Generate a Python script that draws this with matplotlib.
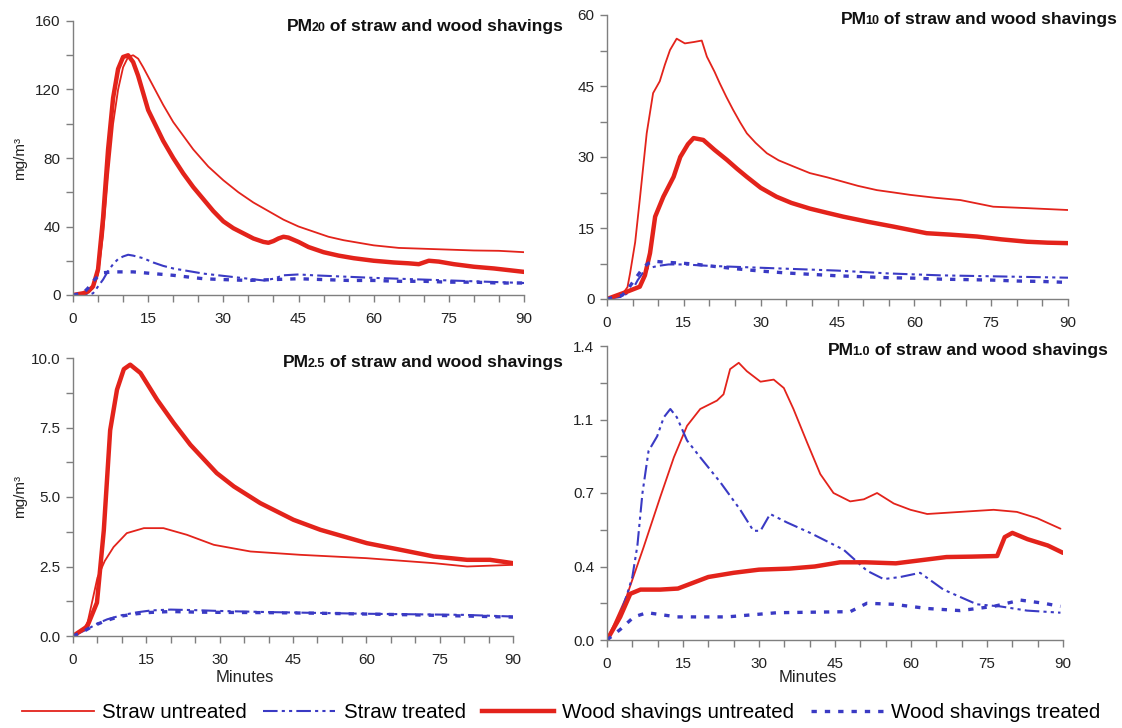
import matplotlib
matplotlib.use("Agg")
import matplotlib.pyplot as plt
from matplotlib.lines import Line2D

plt.rcParams['font.family'] = ['Liberation Sans', 'DejaVu Sans']

# ---------------- data (minutes, mg/m3) ----------------
# PM20
pm20_su_t = [0, 2, 3, 4, 5, 6, 7, 8, 9, 10, 11, 12, 13, 14, 16, 18, 20, 22, 24, 27, 30, 33, 36, 39, 42, 45, 48, 51, 54, 57, 60, 65, 70, 75, 80, 85, 90]
pm20_su_v = [0, 0.5, 1.5, 4, 12, 35, 70, 100, 120, 133, 139, 140, 138, 133, 122, 111, 101, 93, 85, 75, 67, 60, 54, 49, 44, 40, 37, 34, 32, 30.5, 29, 27.5, 27, 26.5, 26, 25.8, 25]
pm20_st_t = [0, 3, 4, 5, 6, 7, 8, 9, 10, 11, 12, 14, 16, 18, 20, 23, 26, 29, 32, 35, 38, 40, 42, 45, 48, 52, 56, 60, 65, 70, 75, 80, 85, 90]
pm20_st_v = [0, 0, 1, 5, 9, 14, 18, 21, 22.5, 23.5, 23, 21.5, 19, 17, 15.5, 14, 12.5, 11.5, 10.5, 9.5, 8.5, 9.5, 11.5, 12, 11.5, 11, 10.5, 10, 9.5, 9, 8.5, 8, 7.5, 7]
pm20_wu_t = [0, 2, 3, 4, 5, 6, 7, 8, 9, 10, 11, 12, 13, 14, 15, 18, 20, 22, 24, 26, 28, 30, 32, 34, 36, 38, 39, 40, 41, 42, 43, 45, 47, 50, 53, 56, 60, 64, 67, 69, 71, 73, 76, 80, 84, 87, 90]
pm20_wu_v = [0, 1, 2, 5, 15, 45, 85, 115, 132, 139, 140, 136, 128, 118, 108, 90, 80, 71, 63, 56, 49, 43, 39, 36, 33, 31, 30.5, 31.5, 33, 34, 33.5, 31, 28, 25, 23, 21.5, 20, 19, 18.5, 18, 20, 19.5, 18, 16.5, 15.5, 14.5, 13.5]
pm20_wt_t = [0, 2, 3, 4, 5, 6, 8, 10, 12, 14, 16, 18, 20, 23, 26, 30, 35, 40, 45, 50, 55, 60, 65, 70, 75, 80, 85, 90]
pm20_wt_v = [0, 1, 4, 8, 11, 13, 13.5, 13.5, 13.5, 13, 12.5, 12, 11.5, 10.5, 9.5, 9, 8.5, 9, 9.5, 9, 8.5, 8.5, 8, 8, 7.5, 7.5, 7, 7]

# PM10
pm10_su_t = [0, 3, 4, 4.5, 5.5, 6.4, 7.75, 9, 10.3, 11.3, 12.3, 13.6, 15.2, 17, 18.5, 19.5, 21, 22, 23.3, 24.6, 26, 27.3, 29, 31.2, 33.5, 36.4, 39.6, 43, 46, 49, 52.7, 56, 59.2, 64, 69, 75.4, 82, 90]
pm10_su_v = [0, 1, 2.5, 5.4, 12, 21, 35, 43.5, 46, 49.5, 52.6, 55, 54, 54.3, 54.6, 51.2, 48, 45.6, 42.7, 40, 37.3, 35, 33, 30.8, 29.3, 28, 26.6, 25.7, 24.8, 23.9, 23, 22.5, 22, 21.4, 20.9, 19.5, 19.2, 18.8]
pm10_st_t = [0, 3, 5, 6, 7, 8, 10, 12, 15, 20, 25, 30, 35, 40, 45, 50, 55, 60, 65, 70, 75, 80, 85, 90]
pm10_st_v = [0, 0.5, 2, 4, 5.5, 6.5, 7, 7.3, 7.3, 7, 6.8, 6.6, 6.4, 6.2, 6, 5.7, 5.4, 5.2, 5, 4.9, 4.8, 4.7, 4.6, 4.5]
pm10_wu_t = [0, 3.8, 6.4, 7.4, 8.4, 9.4, 11, 13, 14.3, 15.8, 16.9, 18.8, 21, 23.4, 25.4, 27.3, 30, 33.1, 36, 39.6, 43, 46.1, 51, 55.9, 62.4, 67, 72.2, 77, 82, 86, 90]
pm10_wu_v = [0, 1.5, 2.6, 5, 9.7, 17.4, 21.6, 25.8, 30, 32.7, 34, 33.6, 31.5, 29.4, 27.5, 25.8, 23.5, 21.6, 20.3, 19.1, 18.2, 17.4, 16.3, 15.3, 13.9, 13.6, 13.2, 12.6, 12.1, 11.9, 11.8]
pm10_wt_t = [0, 3, 4, 5, 6, 7, 8, 9, 11, 14, 17, 20, 25, 30, 35, 40, 45, 50, 55, 60, 65, 70, 75, 80, 85, 90]
pm10_wt_v = [0, 0.8, 2, 3.5, 5, 6.5, 7.5, 8, 7.8, 7.6, 7.4, 7.0, 6.4, 5.9, 5.5, 5.2, 4.9, 4.7, 4.5, 4.4, 4.2, 4.1, 4.0, 3.8, 3.7, 3.5]

# PM2.5
pm25_su_t = [0, 2, 3, 4, 5, 6.5, 8.3, 11, 14.5, 18.5, 23.3, 28.8, 36.3, 46.5, 60, 73.8, 80.6, 90]
pm25_su_v = [0, 0.2, 0.5, 1.3, 2.1, 2.7, 3.2, 3.7, 3.88, 3.88, 3.64, 3.28, 3.04, 2.92, 2.8, 2.62, 2.5, 2.56]
pm25_st_t = [0, 3, 5, 7, 10, 13, 16, 20, 25, 30, 40, 50, 60, 70, 80, 90]
pm25_st_v = [0, 0.25, 0.45, 0.6, 0.75, 0.85, 0.92, 0.95, 0.93, 0.9, 0.86, 0.83, 0.8, 0.78, 0.76, 0.7]
pm25_wu_t = [0, 2.9, 4.9, 6.3, 7.6, 9, 10.4, 11.7, 13.8, 17.2, 20.6, 24, 29.4, 32.9, 38.3, 45.1, 50.6, 60.1, 67, 73.8, 80.6, 85.3, 90]
pm25_wu_v = [0, 0.34, 1.2, 3.8, 7.4, 8.86, 9.6, 9.76, 9.46, 8.5, 7.66, 6.88, 5.86, 5.38, 4.78, 4.18, 3.82, 3.34, 3.1, 2.86, 2.74, 2.74, 2.62]
pm25_wt_t = [0, 2, 4, 6, 8, 10, 13, 16, 20, 25, 30, 40, 50, 60, 70, 80, 90]
pm25_wt_v = [0, 0.15, 0.35, 0.5, 0.62, 0.72, 0.8, 0.85, 0.88, 0.86, 0.85, 0.84, 0.82, 0.79, 0.76, 0.72, 0.68]

# PM1.0
pm1_su_t = [0, 3.9, 7.2, 10.5, 13.2, 15.8, 18.4, 21.7, 23, 24.3, 26, 27.6, 30.3, 32.9, 34.9, 36.8, 39.5, 42.1, 44.7, 48, 50.7, 53.3, 56.6, 59.9, 63.2, 69.7, 76.3, 80.9, 84.9, 89.5]
pm1_su_v = [0, 0.21, 0.44, 0.68, 0.87, 1.02, 1.10, 1.14, 1.17, 1.29, 1.32, 1.28, 1.23, 1.24, 1.2, 1.10, 0.94, 0.79, 0.70, 0.66, 0.67, 0.70, 0.65, 0.62, 0.60, 0.61, 0.62, 0.61, 0.58, 0.53]
pm1_st_t = [0, 2, 4, 5, 6, 7, 8.2, 9.9, 11.2, 12.5, 13.8, 15.8, 18.4, 22.4, 26.3, 28.9, 30.3, 32.2, 35.5, 40.1, 46.7, 51.3, 54.6, 57.9, 61.8, 66.4, 73, 77.6, 82.9, 89.5]
pm1_st_v = [0, 0.08, 0.22, 0.3, 0.45, 0.7, 0.9, 0.97, 1.06, 1.10, 1.06, 0.95, 0.87, 0.75, 0.62, 0.52, 0.52, 0.60, 0.56, 0.51, 0.43, 0.33, 0.29, 0.30, 0.32, 0.24, 0.17, 0.16, 0.14, 0.13]
pm1_wu_t = [0, 2.6, 4.6, 6.6, 10.5, 14, 20, 25, 30, 36, 41, 46, 51, 57, 62, 67, 72, 77, 78.5, 80, 83, 87, 90]
pm1_wu_v = [0, 0.11, 0.22, 0.24, 0.24, 0.245, 0.30, 0.32, 0.335, 0.34, 0.35, 0.37, 0.37, 0.365, 0.38, 0.395, 0.397, 0.40, 0.49, 0.51, 0.48, 0.45, 0.415]
pm1_wt_t = [0, 2.6, 5.3, 7.9, 13.8, 23.7, 33.6, 48, 51.3, 56.6, 63.2, 69.7, 76.3, 81.6, 86.2, 89.5]
pm1_wt_v = [0, 0.05, 0.11, 0.13, 0.11, 0.11, 0.13, 0.135, 0.175, 0.17, 0.15, 0.14, 0.16, 0.19, 0.175, 0.16]

x_ticks = [0, 15, 30, 45, 60, 75, 90]
series_labels = ["Straw untreated", "Straw treated", "Wood shavings untreated", "Wood shavings treated"]

panels = [
    dict(pos=[73/1122, 1-295/728, 451/1122, 274/728], ylim=(0, 160), yt=[0, 40, 80, 120, 160],
         ytl=["0", "40", "80", "120", "160"], ymin=20, sub="20",
         data=[(pm20_su_t, pm20_su_v), (pm20_st_t, pm20_st_v), (pm20_wu_t, pm20_wu_v), (pm20_wt_t, pm20_wt_v)],
         title_xy=(563/1122, 1-31/728), ylabel=True, xlabel=False),
    dict(pos=[607/1122, 1-299/728, 461/1122, 284/728], ylim=(0, 60), yt=[0, 15, 30, 45, 60],
         ytl=["0", "15", "30", "45", "60"], ymin=7.5, sub="10",
         data=[(pm10_su_t, pm10_su_v), (pm10_st_t, pm10_st_v), (pm10_wu_t, pm10_wu_v), (pm10_wt_t, pm10_wt_v)],
         title_xy=(1117/1122, 1-24/728), ylabel=False, xlabel=False),
    dict(pos=[73/1122, 1-636/728, 440/1122, 278/728], ylim=(0, 10), yt=[0, 2.5, 5, 7.5, 10],
         ytl=["0.0", "2.5", "5.0", "7.5", "10.0"], ymin=1.25, sub="2.5",
         data=[(pm25_su_t, pm25_su_v), (pm25_st_t, pm25_st_v), (pm25_wu_t, pm25_wu_v), (pm25_wt_t, pm25_wt_v)],
         title_xy=(563/1122, 1-367/728), ylabel=True, xlabel=True, xlab_x=245/1122),
    dict(pos=[607/1122, 1-640/728, 456/1122, 294/728], ylim=(0, 1.4), yt=[0, 0.35, 0.7, 1.05, 1.4],
         ytl=["0.0", "0.4", "0.7", "1.1", "1.4"], ymin=0.175, sub="1.0",
         data=[(pm1_su_t, pm1_su_v), (pm1_st_t, pm1_st_v), (pm1_wu_t, pm1_wu_v), (pm1_wt_t, pm1_wt_v)],
         title_xy=(1108/1122, 1-355/728), ylabel=False, xlabel=True, xlab_x=808/1122),
]

RED = '#e3231b'
BLUE = '#3a3ac4'
styles = [
    dict(color=RED, lw=1.3, ls='-'),
    dict(color=BLUE, lw=1.5, ls=(0, (7, 2, 1.5, 2, 1.5, 2))),
    dict(color=RED, lw=3.2, ls='-'),
    dict(color=BLUE, lw=2.4, ls=(0, (1.6, 2.4))),
]

fig = plt.figure(figsize=(11.22, 7.28), dpi=100)
renderer = fig.canvas.get_renderer()
GRAY = '#7f7f7f'
for p in panels:
    ax = fig.add_axes(p['pos'])
    for (t, v), st, lab in zip(p['data'], styles, series_labels):
        ax.plot(t, v, label=lab, solid_capstyle='round', solid_joinstyle='round', **st)
    ax.set_xlim(0, 90)
    ax.set_ylim(*p['ylim'])
    ax.set_xticks(x_ticks)
    ax.set_xticks(range(0, 91, 5), minor=True)
    ax.set_yticks(p['yt'])
    ax.set_yticklabels(p['ytl'])
    ax.set_yticks([p['ymin'] * k for k in range(1, 8, 2)], minor=True)
    for s in ['top', 'right']:
        ax.spines[s].set_visible(False)
    for s in ['left', 'bottom']:
        ax.spines[s].set_color(GRAY)
        ax.spines[s].set_linewidth(1.0)
    ax.tick_params(which='both', direction='out', color=GRAY, length=5, width=1.0,
                   labelsize=11, labelcolor='#222222')
    ax.tick_params(axis='x', pad=7)
    ax.tick_params(axis='y', pad=4)
    if p['ylabel']:
        y0 = p['pos'][1] + p['pos'][3] / 2
        fig.text(20/1122, y0, "mg/m³", rotation=90, ha='center', va='center', fontsize=11, color='#222222')
    if p['xlabel']:
        fig.text(p['xlab_x'], 1-677/728, "Minutes", ha='center', va='center', fontsize=12, color='#222222')
    # title: "PM" + smaller number on the baseline + rest, right aligned
    xr, yb = p['title_xy']
    t3 = fig.text(xr, yb, " of straw and wood shavings", ha='right', va='baseline',
                  fontsize=12.5, fontweight='bold', color='#111111')
    bb = t3.get_window_extent(renderer).transformed(fig.transFigure.inverted())
    t2 = fig.text(bb.x0, yb, p['sub'], ha='right', va='baseline',
                  fontsize=9, fontweight='bold', color='#111111')
    bb2 = t2.get_window_extent(renderer).transformed(fig.transFigure.inverted())
    fig.text(bb2.x0 + 1.5/1122, yb, "PM", ha='right', va='baseline',
             fontsize=12.5, fontweight='bold', color='#111111')

handles = [Line2D([], [], **st) for st in styles]
fig.legend(handles, series_labels, loc='center', bbox_to_anchor=(0.5, 1-713/728), ncol=4,
           frameon=False, fontsize=14.8, handlelength=3.5, columnspacing=0.8, handletextpad=0.4)

fig.savefig("out.png", dpi=100, facecolor='white')
